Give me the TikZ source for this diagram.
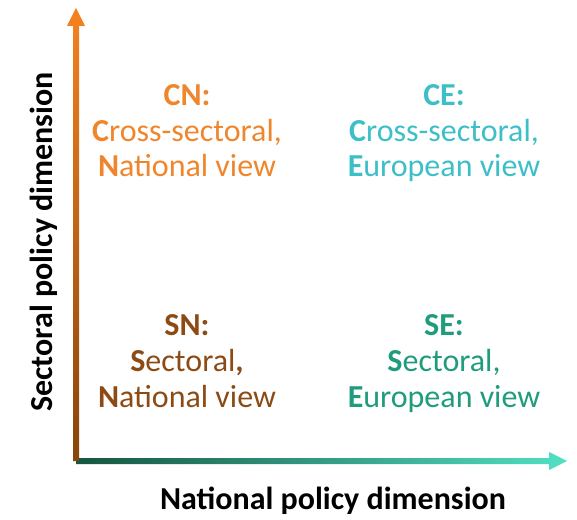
\documentclass[tikz,border=0pt]{standalone}
\usepackage{fontspec}
\setmainfont{Carlito}
\usetikzlibrary{calc}

\definecolor{cnorange}{RGB}{240,134,44}
\definecolor{cecyan}{RGB}{61,191,200}
\definecolor{snbrown}{RGB}{140,75,20}
\definecolor{segreen}{RGB}{31,155,125}
\definecolor{axtop}{RGB}{245,130,32}
\definecolor{axbottom}{RGB}{135,68,12}
\definecolor{axleft}{RGB}{22,85,65}
\definecolor{axright}{RGB}{80,225,195}

\tikzset{
  quadline/.style={anchor=base, inner sep=0pt, font=\fontsize{32}{36}\selectfont},
  axislabel/.style={anchor=base, inner sep=0pt, font=\fontsize{32}{36}\selectfont\bfseries, text=black},
}

\begin{document}
\begin{tikzpicture}[x=1pt,y=1pt]
  \useasboundingbox (0,0) rectangle (577,519);

  % origin and arrow tips of the two axes
  \coordinate (origin) at (76,58);
  \coordinate (ytip) at (76,511);
  \coordinate (xtip) at (567,58);

  % national axis: shaft plus head, shaded left to right
  \shade[left color=axleft, right color=axright]
    (76,55) -- (549,55) -- (549,49) -- (xtip) -- (549,67) -- (549,61) -- (76,61) -- cycle;

  % sectoral axis: shaft plus head, shaded bottom to top
  \shade[bottom color=axbottom, top color=axtop]
    (73,58) -- (79,58) -- (79,493) -- (85,493) -- (ytip) -- (67,493) -- (73,493) -- cycle;

  % axis titles
  \node[axislabel] (xlabel) at (333,10) {National policy dimension};
  \node[axislabel, rotate=90] (ylabel) at (52,277) {Sectoral policy dimension};

  % cross-sectoral, national
  \node[quadline, text=cnorange] (cn1) at (187,413) {\textbf{CN:}};
  \node[quadline, text=cnorange] (cn2) at (187,377) {\textbf{C}ross-sectoral,};
  \node[quadline, text=cnorange] (cn3) at (187,342) {\textbf{N}ational view};

  % cross-sectoral, european
  \node[quadline, text=cecyan] (ce1) at (444,413) {\textbf{CE:}};
  \node[quadline, text=cecyan] (ce2) at (444,377) {\textbf{C}ross-sectoral,};
  \node[quadline, text=cecyan] (ce3) at (444,342) {\textbf{E}uropean view};

  % sectoral, national
  \node[quadline, text=snbrown] (sn1) at (187,183) {\textbf{SN:}};
  \node[quadline, text=snbrown] (sn2) at (187,147.5) {\textbf{S}ectoral\textbf{,}};
  \node[quadline, text=snbrown] (sn3) at (187,112) {\textbf{N}ational view};

  % sectoral, european
  \node[quadline, text=segreen] (se1) at (444,183) {\textbf{SE:}};
  \node[quadline, text=segreen] (se2) at (444,147.5) {\textbf{S}ectoral,};
  \node[quadline, text=segreen] (se3) at (444,112) {\textbf{E}uropean view};
\end{tikzpicture}
\end{document}
